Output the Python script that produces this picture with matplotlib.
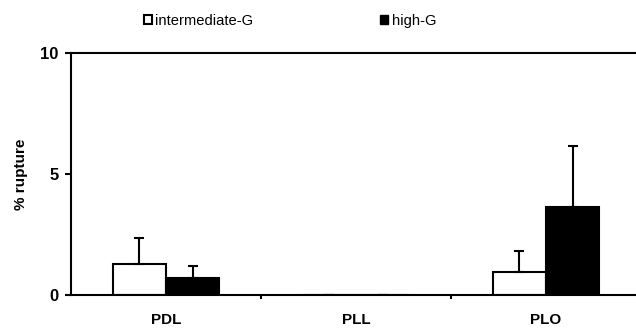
import matplotlib
matplotlib.use('Agg')
import matplotlib.pyplot as plt
import numpy as np
from matplotlib.patches import Patch

plt.rcParams['font.family'] = ['Liberation Sans', 'DejaVu Sans']

categories = ['PDL', 'PLL', 'PLO']
intermediate = [1.28, 0.0, 0.94]
intermediate_err = [1.06, 0.0, 0.89]
high = [0.70, 0.0, 3.65]
high_err = [0.49, 0.0, 2.52]

fig = plt.figure(figsize=(6.36, 3.31), dpi=100)
ax = fig.add_axes([0.1116, 0.1088, 0.8964, 0.7312])

x = np.arange(len(categories))
w = 0.28
ax.bar(x - w / 2, intermediate, width=w, color='white', edgecolor='black', linewidth=1.5,
       yerr=[np.zeros(3), intermediate_err], capsize=3.6,
       error_kw=dict(elinewidth=1.5, capthick=1.5, ecolor='black'))
ax.bar(x + w / 2, high, width=w, color='black', edgecolor='black', linewidth=1.5,
       yerr=[np.zeros(3), high_err], capsize=3.6,
       error_kw=dict(elinewidth=1.5, capthick=1.5, ecolor='black'))

ax.set_xlim(-0.5, 2.5)
ax.set_ylim(0, 10)
ax.set_yticks([0, 5, 10])
ax.set_xticks(x)
ax.set_xticklabels(categories, fontweight='bold')
ax.set_xticks([0.5, 1.5], minor=True)
ax.tick_params(axis='x', which='major', length=0, pad=13, labelsize=11)
ax.tick_params(axis='x', which='minor', length=3, width=1.5, direction='out')
ax.tick_params(axis='y', length=4, width=1.5, direction='out', labelsize=12, pad=5)
for lab in ax.get_yticklabels():
    lab.set_fontweight('bold')
for s in ['left', 'bottom', 'top']:
    ax.spines[s].set_linewidth(1.5)
ax.spines['right'].set_visible(False)
ax.set_ylabel('% rupture', fontweight='bold', fontsize=11, labelpad=9)

handles = [Patch(facecolor='white', edgecolor='black', linewidth=1.5, label='intermediate-G'),
           Patch(facecolor='black', edgecolor='black', label='high-G')]
fig.legend(handles=handles, loc='center', bbox_to_anchor=(0.456, 0.937), ncol=2,
           frameon=False, fontsize=10.6, handlelength=0.55, handleheight=0.6,
           handletextpad=0.25, columnspacing=8.6)

fig.savefig('out.png', dpi=100)
